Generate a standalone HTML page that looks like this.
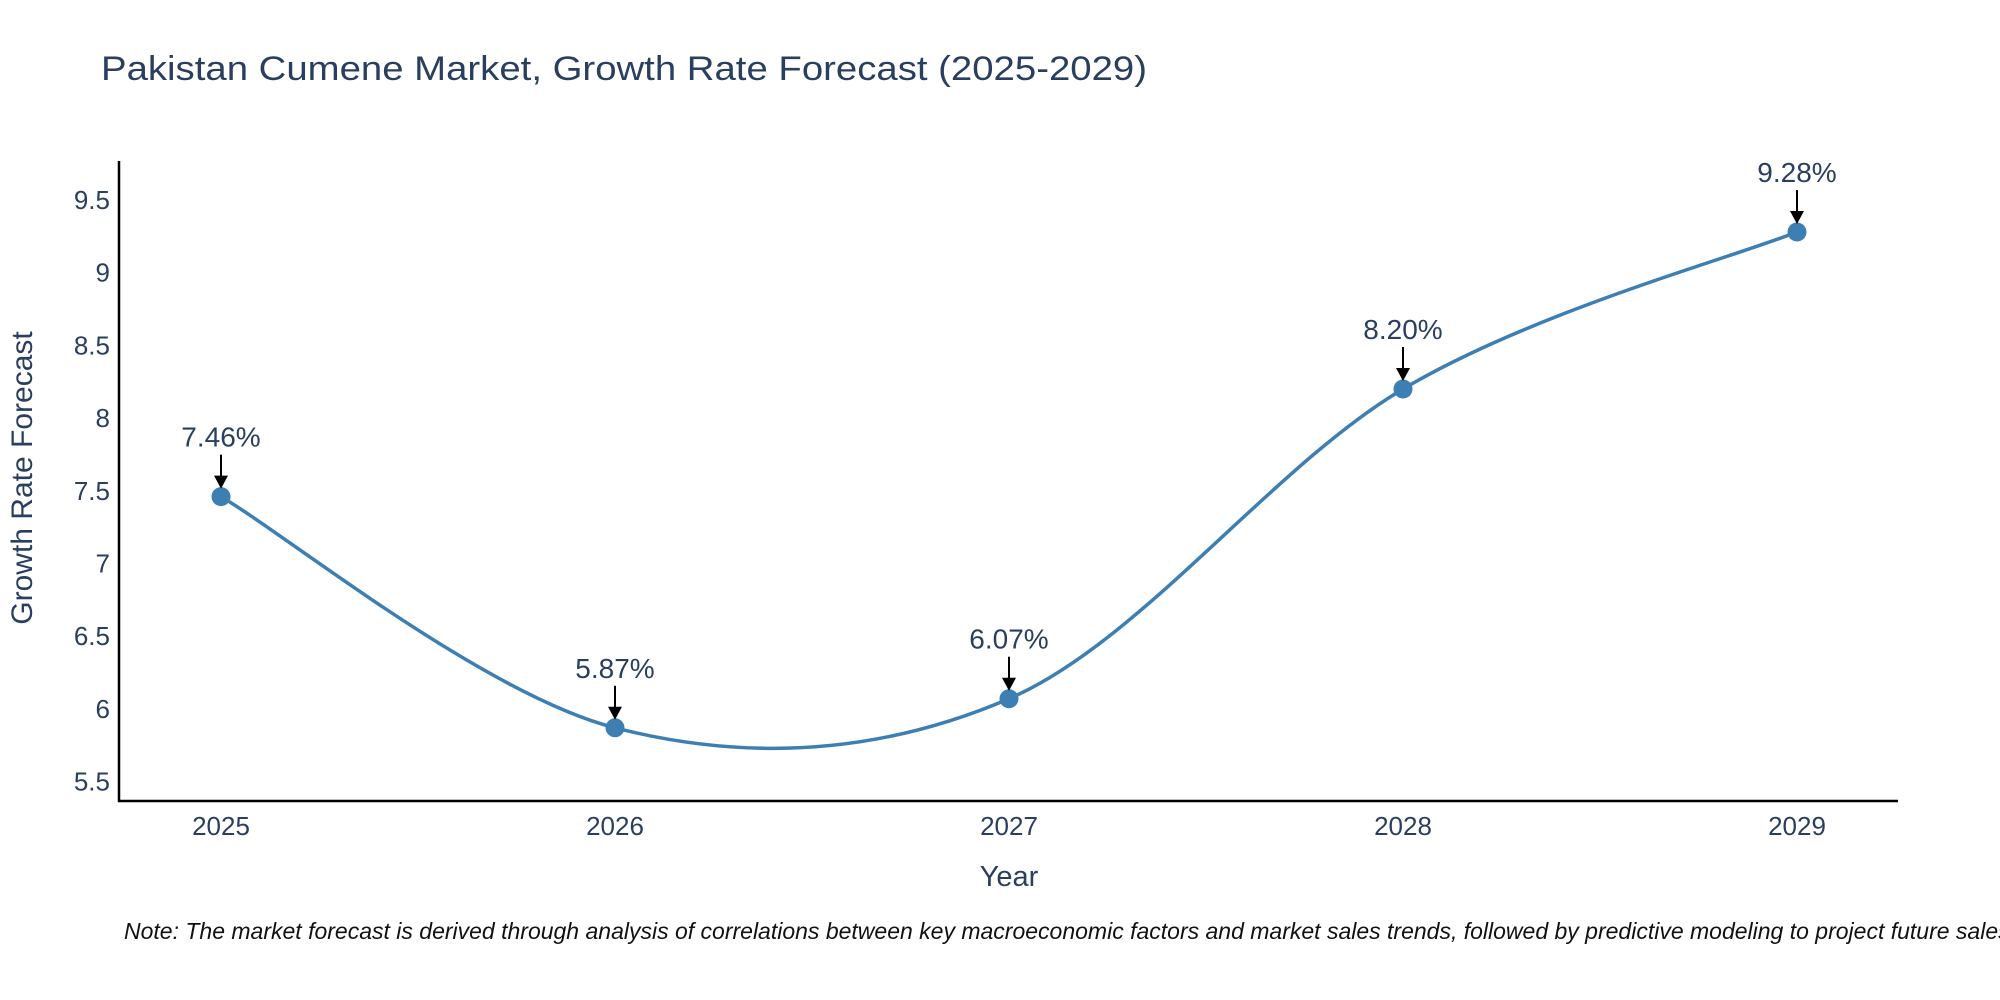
<!DOCTYPE html>
<html><head><meta charset="utf-8"><style>
html,body{margin:0;padding:0;background:#fff;}
svg{display:block;font-family:"Liberation Sans",Arial,sans-serif;}
</style></head><body>
<svg id="chart" width="2000" height="1000" viewBox="0 0 2000 1000" xmlns="http://www.w3.org/2000/svg">
<rect width="2000" height="1000" fill="#fff"/>
<text x="101" y="80" font-size="34" fill="#2a3f5f" textLength="1046" lengthAdjust="spacingAndGlyphs">Pakistan Cumene Market, Growth Rate Forecast (2025-2029)</text>
<g id="plot"></g>
<text x="32" y="478" font-size="30" fill="#2a3f5f" text-anchor="middle" transform="rotate(-90 32 478)">Growth Rate Forecast</text>
<text x="1009" y="886" font-size="29" fill="#2a3f5f" text-anchor="middle">Year</text>
<text x="124" y="939" font-size="23" font-style="italic" fill="#111">Note: The market forecast is derived through analysis of correlations between key macroeconomic factors and market sales trends, followed by predictive modeling to project future sales.</text>
</svg>
<script>
const years = ["2025","2026","2027","2028","2029"];
const values = [7.46, 5.87, 6.07, 8.20, 9.28];
const labels = ["7.46%","5.87%","6.07%","8.20%","9.28%"];
const yTicks = [5.5, 6, 6.5, 7, 7.5, 8, 8.5, 9, 9.5];
const yTickLabels = ["5.5","6","6.5","7","7.5","8","8.5","9","9.5"];

const NS = "http://www.w3.org/2000/svg";
const g = document.getElementById('plot');
const X0 = 221, XSTEP = 394;
function xs(i){ return X0 + i * XSTEP; }
function ys(v){ return 200 + (9.5 - v) * 145.4; }
function mk(tag, attrs){ const e = document.createElementNS(NS, tag); for (const k in attrs) e.setAttribute(k, attrs[k]); g.appendChild(e); return e; }

let ax = mk('line',{x1:119,y1:161,x2:119,y2:802,stroke:'#000','stroke-width':2.5});


ax = mk('line',{x1:118,y1:801,x2:1898,y2:801,stroke:'#000','stroke-width':2.5});



yTicks.forEach((t,i)=>{
  const e = mk('text',{x:110,y:ys(t)+9,'font-size':26,fill:'#2a3f5f','text-anchor':'end'});
  e.textContent = yTickLabels[i];
  
  
});
years.forEach((yr,i)=>{
  const e = mk('text',{x:xs(i),y:835,'font-size':26,fill:'#2a3f5f','text-anchor':'middle'});
  e.textContent = yr;
  
  
});

const pts = values.map((v,i)=>[xs(i), ys(v)]);
let d = 'M' + pts[0][0] + ',' + pts[0][1];
for (let i=0;i<pts.length-1;i++){
  const p0 = pts[Math.max(0,i-1)], p1 = pts[i], p2 = pts[i+1], p3 = pts[Math.min(pts.length-1,i+2)];
  const c1x = p1[0] + (p2[0]-p0[0])/6, c1y = p1[1] + (p2[1]-p0[1])/6;
  const c2x = p2[0] - (p3[0]-p1[0])/6, c2y = p2[1] - (p3[1]-p1[1])/6;
  d += ' C' + c1x + ',' + c1y + ' ' + c2x + ',' + c2y + ' ' + p2[0] + ',' + p2[1];
}
const line = mk('path',{d:d,fill:'none',stroke:'#3d7fb3','stroke-width':3.5});



pts.forEach((p,i)=>{
  const c = mk('circle',{cx:p[0],cy:p[1],r:9.5,fill:'#3d7fb3'});
  
  
  const a = mk('line',{x1:p[0],y1:p[1]-42,x2:p[0],y2:p[1]-20,stroke:'#000','stroke-width':2});
  
  
  const h = mk('polygon',{points:(p[0]-7)+','+(p[1]-21)+' '+(p[0]+7)+','+(p[1]-21)+' '+p[0]+','+(p[1]-8),fill:'#000'});
  
  
  const t = mk('text',{x:p[0],y:p[1]-50,'font-size':28,fill:'#2a3f5f','text-anchor':'middle'});
  t.textContent = labels[i];
  
  
});
</script>
</body></html>
